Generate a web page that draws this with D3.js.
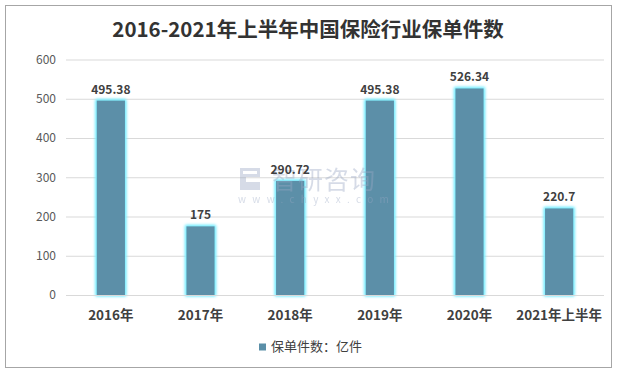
<!DOCTYPE html>
<html><head><meta charset="utf-8">
<script src="https://cdn.jsdelivr.net/npm/d3@7"></script>
<style>body{margin:0;background:#fff;}svg{display:block;}</style>
</head><body>
<svg id="c" width="617" height="374"></svg>
<script>
const categories = ["2016年","2017年","2018年","2019年","2020年","2021年上半年"];
const values = [495.38, 175, 290.72, 495.38, 526.34, 220.7];
const valueLabels = ["495.38","175","290.72","495.38","526.34","220.7"];
const yTicks = [0,100,200,300,400,500,600];
const seriesName = "保单件数：亿件";
const title = "2016-2021年上半年中国保险行业保单件数";

const svg = d3.select("#c");
const font = "'Microsoft YaHei','Noto Sans CJK SC',sans-serif";
svg.append("rect").attr("x",5.5).attr("y",5.5).attr("width",606).attr("height",362)
  .attr("fill","#fff").attr("stroke","#a6a6a6");

const defs = svg.append("defs");
const f = defs.append("filter").attr("id","glow").attr("x","-50%").attr("y","-10%").attr("width","200%").attr("height","120%");
f.append("feMorphology").attr("in","SourceAlpha").attr("operator","dilate").attr("radius",1).attr("result","d");
f.append("feGaussianBlur").attr("in","d").attr("stdDeviation",1.6).attr("result","b");
f.append("feFlood").attr("flood-color","#7eeeff").attr("result","c");
f.append("feComposite").attr("in","c").attr("in2","b").attr("operator","in").attr("result","g");
const m = f.append("feMerge"); m.append("feMergeNode").attr("in","g"); m.append("feMergeNode").attr("in","g"); m.append("feMergeNode").attr("in","SourceGraphic");

const x = d3.scaleBand().domain(categories).range([66,604]).paddingInner(0.685).paddingOuter(0.3425);
const y = d3.scaleLinear().domain([0,600]).range([295,59.5]);

svg.append("text").attr("x",308).attr("y",37).attr("text-anchor","middle")
  .attr("font-family",font).attr("font-weight","bold").attr("font-size",20.5).attr("fill","#333").text(title);

const gy = svg.append("g").attr("transform","translate(66,0)")
  .call(d3.axisLeft(y).tickValues(yTicks).tickSize(-538).tickFormat(d3.format("d")));
gy.select(".domain").remove();
gy.selectAll(".tick line").attr("stroke","#d9d9d9");
gy.selectAll(".tick text").attr("x",-10).attr("font-family",font).attr("font-size",12).attr("fill","#595959");

svg.append("g").selectAll("rect").data(values).join("rect")
  .attr("x",(d,i)=>x(categories[i])).attr("width",x.bandwidth())
  .attr("y",d=>y(d)).attr("height",d=>y(0)-y(d))
  .attr("fill","#5b8fa8").attr("filter","url(#glow)");

// watermark
const wm = svg.append("g").attr("opacity",0.4).attr("fill","#9aa8c4");
wm.append("path").attr("d","M240,168 h20 v9 h-14 v5 h14 v8 h-20 z M243,171 v3 h14 v-3 z").attr("fill-rule","evenodd");
wm.append("text").attr("x",272).attr("y",189).attr("font-family",font).attr("font-size",25).attr("letter-spacing",1).text("智研咨询");
wm.append("text").attr("x",238).attr("y",203).attr("font-family",font).attr("font-size",10).attr("letter-spacing",6.3).text("www.chyxx.com");

svg.append("g").selectAll("text").data(values).join("text")
  .attr("x",(d,i)=>x(categories[i])+x.bandwidth()/2).attr("y",d=>y(d)-7)
  .attr("text-anchor","middle").attr("font-family",font).attr("font-weight","bold")
  .attr("font-size",12).attr("fill","#404040").text((d,i)=>valueLabels[i]);

svg.append("line").attr("x1",66).attr("x2",604).attr("y1",y(0)+0.5).attr("y2",y(0)+0.5).attr("stroke","#d9d9d9");

const gx = svg.append("g").attr("transform",`translate(0,${y(0)})`).call(d3.axisBottom(x).tickSize(0));
gx.select(".domain").remove();
gx.selectAll(".tick text").attr("dy",0).attr("y",25).attr("font-family",font).attr("font-weight","bold").attr("font-size",13.5).attr("fill","#404040");

const lg = svg.append("g");
lg.append("rect").attr("x",259).attr("y",343.5).attr("width",7).attr("height",7).attr("fill","#5b8fa8");
lg.append("text").attr("x",271).attr("y",351).attr("font-family",font).attr("font-size",13).attr("fill","#404040").text(seriesName);
</script>
</body></html>
